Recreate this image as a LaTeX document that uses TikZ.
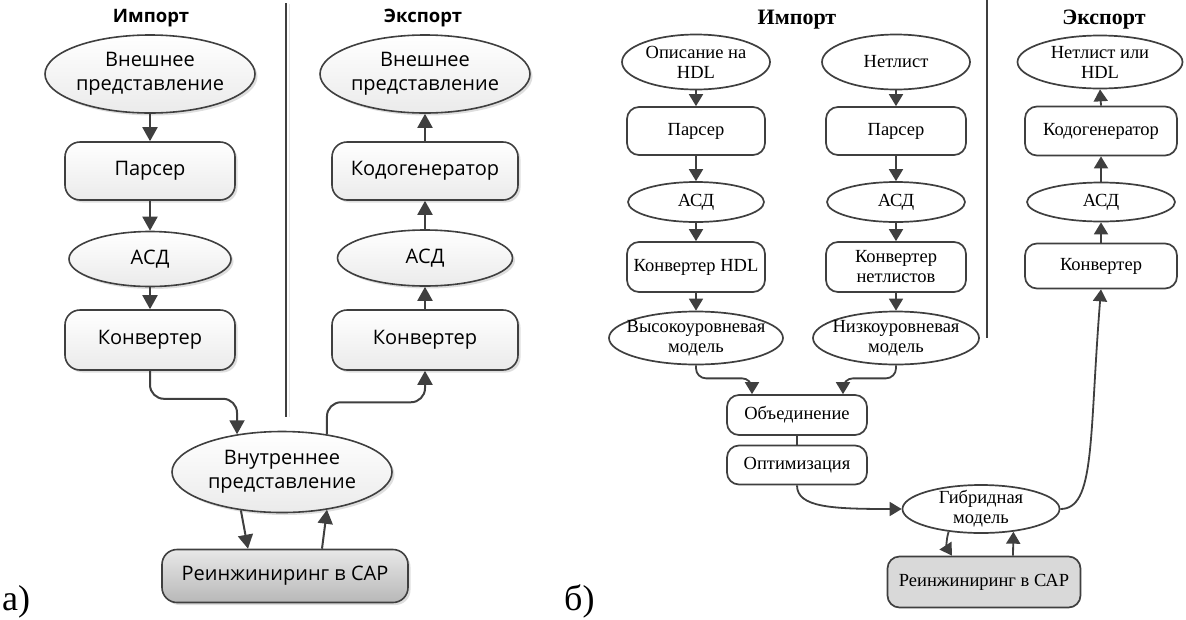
\documentclass[tikz,border=0pt]{standalone}
\usepackage{fontspec}
\setmainfont{Liberation Serif}
\newfontfamily\uisans{Open Sans}
\usetikzlibrary{arrows.meta,shapes.geometric,shadows,calc}

\definecolor{ink}{HTML}{3F3F3F}
\definecolor{capfill}{HTML}{D9D9D9}

\tikzset{
  every node/.style={inner sep=0pt, align=center},
  % left scheme: sans text, soft gradient and shadow
  lshape/.style={draw=ink, line width=1.6pt, top color=white, bottom color=black!8,
    font=\uisans\fontsize{20}{24}\selectfont,
    drop shadow={shadow xshift=2.5pt, shadow yshift=-2.5pt, fill=black, opacity=0.13}},
  lbox/.style={lshape, rectangle, rounded corners=15pt},
  lell/.style={lshape, ellipse, inner sep=-14pt},
  lcadbox/.style={lbox, top color=black!9, bottom color=black!28},
  % right scheme: serif text, plain fill
  rshape/.style={draw=ink, line width=1.7pt, fill=white, font=\fontsize{18.5}{20}\selectfont},
  rbox/.style={rshape, rectangle, rounded corners=12pt},
  rell/.style={rshape, ellipse, inner sep=-14pt},
  rcadbox/.style={rbox, fill=capfill},
  lhead/.style={font=\uisans\bfseries\fontsize{18.5}{22}\selectfont},
  rhead/.style={font=\bfseries\fontsize{22}{26}\selectfont},
  tag/.style={font=\fontsize{36}{40}\selectfont, anchor=base west},
  larr/.style={draw=ink, line width=2pt, -{Triangle[length=14pt,width=15pt]}},
  rarr/.style={draw=ink, line width=1.8pt, -{Triangle[length=12pt,width=14pt]}},
  link/.style={draw=ink, line width=1.8pt},
  divider/.style={draw=ink, line width=1.8pt},
}

\begin{document}
\begin{tikzpicture}[x=1pt,y=-1pt]
\useasboundingbox (0,0) rectangle (1186,619);

% ---------------- scheme a) ----------------
\node[lhead] (limp) at (151,18) {Импорт};
\node[lhead] (lexp) at (423,18) {Экспорт};
\coordinate (ldivtop) at (286,3);
\coordinate (ldivbot) at (286,417);
\draw[draw=black!10, line width=1.8pt] ($(ldivtop)+(3.5,1)$) -- ($(ldivbot)+(3.5,0)$);
\draw[divider] (ldivtop) -- (ldivbot);

\node[lell, minimum width=210pt, minimum height=78pt] (lsrc) at (150,74) {Внешнее\\представление};
\node[lbox, minimum width=170pt, minimum height=58pt] (lpar) at (150,171) {Парсер};
\node[lell, minimum width=162pt, minimum height=55pt] (lasd) at (150,259) {АСД};
\node[lbox, minimum width=170pt, minimum height=60pt] (lcnv) at (150,340) {Конвертер};

\node[lell, minimum width=210pt, minimum height=78pt] (ldst) at (425,74) {Внешнее\\представление};
\node[lbox, minimum width=186pt, minimum height=58pt] (lgen) at (425,171) {Кодогенератор};
\node[lell, minimum width=175pt, minimum height=56pt] (lasdx) at (425,258) {АСД};
\node[lbox, minimum width=186pt, minimum height=60pt] (lcnvx) at (425,340) {Конвертер};

\node[lell, minimum width=220pt, minimum height=81pt] (lint) at (282,472) {Внутреннее\\представление};
\node[lcadbox, minimum width=246pt, minimum height=53pt] (lrev) at (285,576) {Реинжиниринг в САР};

\draw[larr] (lsrc.south) -- (lpar.north);
\draw[larr] (lpar.south) -- (lasd.north);
\draw[larr] (lasd.south) -- (lcnv.north);
\draw[larr, rounded corners=14pt] (lcnv.south) -- ++(0,28) -| (lint.140);

\draw[larr, rounded corners=14pt] (lint.40) -- ++(0,-32) -| (lcnvx.south);
\draw[larr] (lcnvx.north) -- (lasdx.south);
\draw[larr] (lasdx.north) -- (lgen.south);
\draw[larr] (lgen.north) -- (ldst.south);

\draw[larr] (lint.223) -- ($(lrev.north)+(-37,0)$);
\draw[larr] ($(lrev.north)+(37,0)$) -- (lint.-40);

\node[tag] (ta) at (2,610) {а)};

% ---------------- scheme б) ----------------
\node[rhead] (rimp) at (797,20) {Импорт};
\node[rhead] (rexp) at (1104,20) {Экспорт};
\coordinate (rdivtop) at (987,0);
\coordinate (rdivbot) at (987,338);
\draw[divider] (rdivtop) -- (rdivbot);

\node[rell, minimum width=148pt, minimum height=55pt] (hdl) at (696,62) {Описание на\\HDL};
\node[rbox, minimum width=138pt, minimum height=48pt] (par1) at (696,131) {Парсер};
\node[rell, minimum width=136pt, minimum height=40pt] (asd1) at (696,202) {АСД};
\node[rbox, minimum width=138pt, minimum height=50pt] (cnv1) at (696,267) {Конвертер HDL};
\node[rell, minimum width=174pt, minimum height=53pt] (high) at (696,338) {Высокоуровневая\\модель};

\node[rell, minimum width=148pt, minimum height=55pt] (net) at (896,62) {Нетлист};
\node[rbox, minimum width=140pt, minimum height=48pt] (par2) at (896,131) {Парсер};
\node[rell, minimum width=138pt, minimum height=40pt] (asd2) at (896,202) {АСД};
\node[rbox, minimum width=140pt, minimum height=50pt] (cnv2) at (896,267) {Конвертер\\нетлистов};
\node[rell, minimum width=166pt, minimum height=53pt] (low) at (896,338) {Низкоуровневая\\модель};

\node[rbox, minimum width=140pt, minimum height=40pt] (join) at (797,415) {Объединение};
\node[rbox, minimum width=140pt, minimum height=39pt] (opt) at (797,465) {Оптимизация};
\node[rell, minimum width=157pt, minimum height=48pt] (hyb) at (981,509) {Гибридная\\модель};
\node[rcadbox, minimum width=193pt, minimum height=51pt] (rrev) at (984,582) {Реинжиниринг в САР};

\node[rell, minimum width=165pt, minimum height=53pt] (out) at (1100,62) {Нетлист или\\HDL};
\node[rbox, minimum width=152pt, minimum height=49pt] (gen) at (1101,131) {Кодогенератор};
\node[rell, minimum width=148pt, minimum height=39pt] (asd3) at (1101,202) {АСД};
\node[rbox, minimum width=152pt, minimum height=45pt] (cnv3) at (1101,266) {Конвертер};

\draw[rarr] (hdl.south) -- (par1.north);
\draw[rarr] (par1.south) -- (asd1.north);
\draw[rarr] (asd1.south) -- (cnv1.north);
\draw[rarr] (cnv1.south) -- (high.north);
\draw[rarr] (net.south) -- (par2.north);
\draw[rarr] (par2.south) -- (asd2.north);
\draw[rarr] (asd2.south) -- (cnv2.north);
\draw[rarr] (cnv2.south) -- (low.north);

\draw[rarr, rounded corners=10pt] (high.south) -- ++(0,13) -| ($(join.north)+(-45,0)$);
\draw[rarr, rounded corners=10pt] (low.south) -- ++(0,13) -| ($(join.north)+(46,0)$);
\draw[link] (join.south) -- (opt.north);
\draw[rarr] (opt.south) .. controls +(0,22) and +(-70,0) .. (hyb.west);

\draw[rarr] (hyb.215) to[bend right=25] ($(rrev.north)+(-32,0)$);
\draw[rarr] ($(rrev.north)+(29,0)$) -- (hyb.-35);

\draw[rarr] (hyb.east) .. controls +(35,0) and +(-12,150) .. (cnv3.south);
\draw[rarr] (cnv3.north) -- (asd3.south);
\draw[rarr] (asd3.north) -- (gen.south);
\draw[rarr] (gen.north) -- (out.south);

\node[tag] (tb) at (564,610) {б)};
\end{tikzpicture}
\end{document}
